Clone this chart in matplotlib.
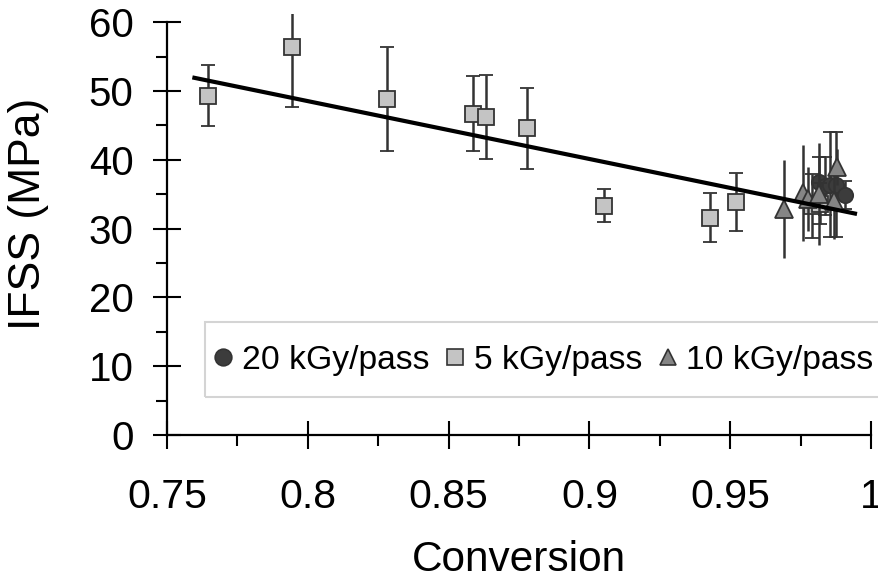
import matplotlib
matplotlib.use("Agg")
import matplotlib.pyplot as plt
from matplotlib.lines import Line2D
from matplotlib.patches import Rectangle
from matplotlib.ticker import MultipleLocator

plt.rcParams['font.family'] = ['Liberation Sans', 'DejaVu Sans']

# 20 kGy/pass
conv_20 = [0.9816, 0.9835, 0.9854, 0.9876, 0.9907]
ifss_20 = [36.8, 36.2, 36.4, 36.4, 34.9]
err_20 = [3.6, 4.2, 7.6, 7.6, 2.0]

# 5 kGy/pass
conv_5 = [0.7645, 0.7945, 0.828, 0.8588, 0.8632, 0.878, 0.9053, 0.9428, 0.952, 0.9789, 0.982]
ifss_5 = [49.3, 56.4, 48.8, 46.7, 46.2, 44.6, 33.3, 31.6, 33.9, 33.3, 33.6]
err_5 = [4.4, 8.8, 7.6, 5.5, 6.1, 5.9, 2.4, 3.6, 4.2, 4.6, 3.0]

# 10 kGy/pass
conv_10 = [0.9691, 0.9757, 0.9775, 0.9816, 0.9869, 0.9878]
ifss_10 = [32.8, 35.2, 34.3, 35.0, 34.0, 38.9]
err_10 = [7.1, 7.0, 4.6, 7.4, 5.5, 2.6]

# linear trend over all samples
trend_slope = -84.1
trend_intercept = 115.8
trend_range = [0.759, 0.995]

series_labels = ['20 kGy/pass', '5 kGy/pass', '10 kGy/pass']
x_ticks = [0.75, 0.8, 0.85, 0.9, 0.95, 1.0]
x_tick_labels = ['0.75', '0.8', '0.85', '0.9', '0.95', '1']
y_ticks = [0, 10, 20, 30, 40, 50, 60]

W, H = 879, 578
edge = '#333333'
fig = plt.figure(figsize=(W / 100, H / 100), dpi=100)
ax = fig.add_axes([0.190, 0.2474, 0.801, 0.7286])

bar_kw = dict(ecolor=edge, elinewidth=1.8, capthick=1.8, linestyle='none',
              markeredgecolor=edge, markeredgewidth=1.3)

ax.errorbar(conv_20, ifss_20, yerr=err_20, marker='o', markersize=11,
            markerfacecolor='#3c3c3c', capsize=5, zorder=3, **bar_kw)
ax.errorbar(conv_5, ifss_5, yerr=err_5, marker='s', markersize=12,
            markerfacecolor='#c4c4c4', capsize=5, zorder=4, **bar_kw)
ax.errorbar(conv_10, ifss_10, yerr=err_10, marker='^', markersize=13,
            markerfacecolor='#858585', capsize=0, zorder=5, **bar_kw)

tx = trend_range
ty = [trend_intercept + trend_slope * v for v in tx]
ax.plot(tx, ty, color='black', linewidth=3, zorder=6, solid_capstyle='butt')

ax.set_xlim(0.75, 1.0)
ax.set_ylim(0, 61.2)
ax.spines['top'].set_visible(False)
ax.spines['right'].set_visible(False)
ax.spines['left'].set_bounds(0, 60)
for s in ('left', 'bottom'):
    ax.spines[s].set_linewidth(1.6)
    ax.spines[s].set_color('black')

ax.set_xticks(x_ticks)
ax.set_xticklabels(x_tick_labels)
ax.xaxis.set_minor_locator(MultipleLocator(0.025))
ax.set_yticks(y_ticks)
ax.yaxis.set_minor_locator(MultipleLocator(5))

ax.tick_params(axis='both', which='major', direction='inout', length=20,
               width=1.5, color='black')
ax.tick_params(axis='y', which='major', pad=14, labelsize=29)
ax.tick_params(axis='x', which='major', pad=21, labelsize=29.5)
ax.tick_params(axis='both', which='minor', direction='out', length=8,
               width=1.5, color='black')

ax.set_xlabel('Conversion', fontsize=30.5, labelpad=17)
ax.set_ylabel('IFSS (MPa)', fontsize=32, labelpad=28.5)
ax.yaxis.label.set_y(0.526)

# legend frame runs past the right edge of the figure
fig.patches.append(Rectangle((205 / W, 1 - 397 / H), (895 - 205) / W, 75 / H,
                             transform=fig.transFigure, fill=False,
                             edgecolor='#d4d4d4', linewidth=1.5))

handles = [
    Line2D([], [], linestyle='none', marker='o', markersize=12,
           markerfacecolor='#3c3c3c', markeredgecolor=edge, markeredgewidth=1.2),
    Line2D([], [], linestyle='none', marker='s', markersize=11.5,
           markerfacecolor='#c4c4c4', markeredgecolor=edge, markeredgewidth=1.2),
    Line2D([], [], linestyle='none', marker='^', markersize=12,
           markerfacecolor='#858585', markeredgecolor=edge, markeredgewidth=1.2),
]
leg = ax.legend(handles, series_labels, ncol=3, loc='center left',
                bbox_to_anchor=(215 / W, 1 - 360 / H),
                bbox_transform=fig.transFigure, fontsize=24.2,
                frameon=False, borderpad=0, borderaxespad=0,
                handlelength=0.5, handletextpad=0.3, columnspacing=0.52)

fig.savefig('out.png', dpi=100)
